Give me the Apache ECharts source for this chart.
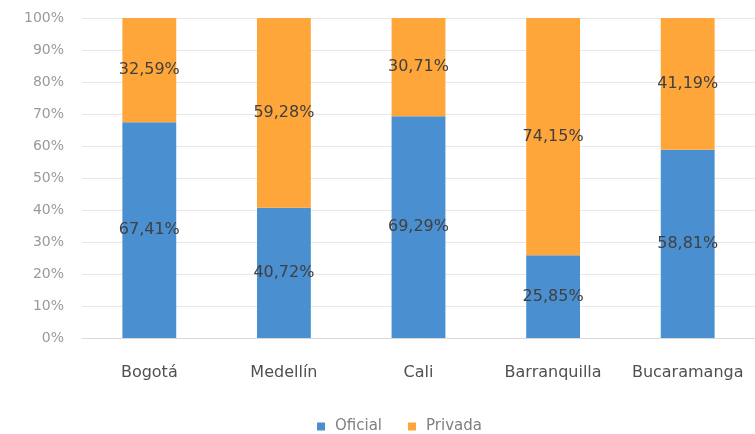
<!DOCTYPE html>
<html><head><meta charset="utf-8">
<script src="https://cdn.jsdelivr.net/npm/echarts@6/dist/echarts.min.js"></script>
<style>html,body{margin:0;padding:0;background:#fff}#c{width:755px;height:434px}</style>
</head><body><div id="c"></div>
<script>
const categories = ["Bogotá", "Medellín", "Cali", "Barranquilla", "Bucaramanga"];
const oficial = [67.41, 40.72, 69.29, 25.85, 58.81];
const privada = [32.59, 59.28, 30.71, 74.15, 41.19];
const seriesNames = ["Oficial", "Privada"];

const fmt = p => p.value.toFixed(2).replace('.', ',') + '%';
const chart = echarts.init(document.getElementById('c'));
chart.setOption({
  animation: false,
  textStyle: { fontFamily: 'DejaVu Sans' },
  color: ['#4A8FD0', '#FFA63A'],
  grid: { left: 82, right: -3, top: 18, bottom: 96 },
  legend: {
    top: 414, left: 312, itemWidth: 8, itemHeight: 8, itemGap: 26,
    icon: 'rect',
    textStyle: { color: '#808080', fontSize: 15, padding: [0, 0, 0, 5] }
  },
  xAxis: {
    type: 'category', data: categories,
    axisLine: { lineStyle: { color: '#d9d9d9' } },
    axisTick: { show: false },
    axisLabel: { color: '#505050', fontSize: 16, margin: 27, interval: 0, hideOverlap: false }
  },
  yAxis: {
    type: 'value', min: 0, max: 100, interval: 10,
    axisLabel: { formatter: '{value}%', color: '#9a9a9a', fontSize: 14, margin: 18 },
    splitLine: { lineStyle: { color: '#e8e8e8' } },
    axisLine: { show: false }, axisTick: { show: false }
  },
  series: [
    { name: seriesNames[0], type: 'bar', stack: 't', data: oficial, barWidth: '40%',
      label: { show: true, position: 'inside', formatter: fmt, color: '#404040', fontSize: 16 } },
    { name: seriesNames[1], type: 'bar', stack: 't', data: privada, barWidth: '40%',
      label: { show: true, position: 'inside', formatter: fmt, color: '#404040', fontSize: 16 } }
  ]
});
</script></body></html>
